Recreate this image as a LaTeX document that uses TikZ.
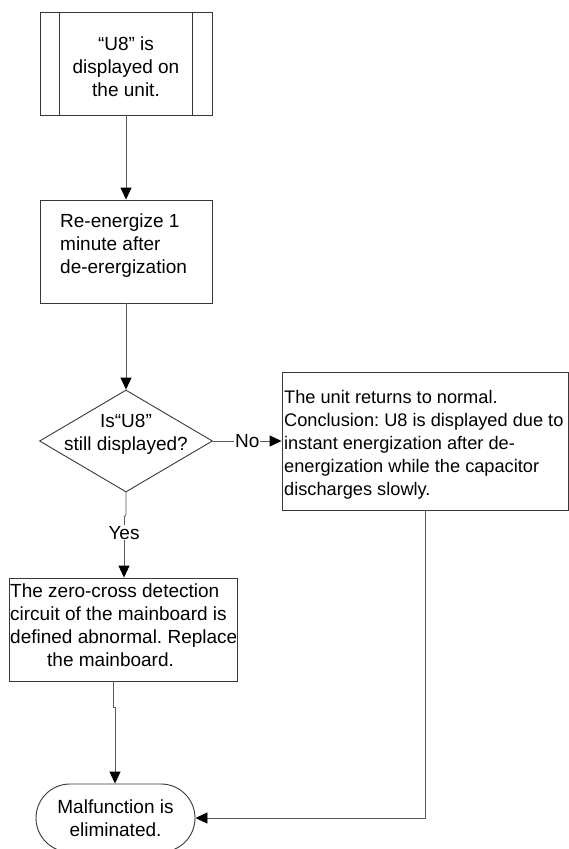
\documentclass[tikz,border=0pt]{standalone}
\usepackage{fontspec}
\setmainfont{Liberation Sans}
\frenchspacing
\usetikzlibrary{shapes.geometric,arrows.meta,calc}
\tikzset{
  boxline/.style={draw=black!78, line width=0.9pt},
  box/.style={boxline, rectangle, inner sep=0pt},
  txt/.style={inner sep=0pt, font=\fontsize{19}{22.7}\selectfont},
  smalltxt/.style={inner sep=0pt, font=\fontsize{18.2}{22.9}\selectfont},
  conn/.style={draw=black!65, line width=0.9pt},
  arr/.style={conn, -{Triangle[length=12pt,width=11pt,color=black]}},
  lbl/.style={txt, fill=white, inner sep=1pt}
}
\begin{document}
\begin{tikzpicture}[x=1pt,y=-1pt]
\useasboundingbox (0,0) rectangle (569,849);
\clip (0,0) rectangle (569,849);
% start: predefined process
\node[box, minimum width=172pt, minimum height=103pt] (b1) at (126,63.5) {};
\draw[boxline] ($(b1.north west)+(20,0)$) -- ($(b1.south west)+(20,0)$);
\draw[boxline] ($(b1.north east)+(-20,0)$) -- ($(b1.south east)+(-20,0)$);
\node[txt, anchor=north, align=center] (t1) at (126,37) {“U8” is\\displayed on\\the unit.};
% re-energize
\node[box, minimum width=172pt, minimum height=103pt] (b2) at (126,251.5) {};
\node[txt, anchor=north west, align=left] (t2) at (60,214) {Re-energize 1\\minute after\\de-erergization};
% decision
\node[boxline, diamond, inner sep=0pt, minimum width=173pt, minimum height=102pt] (d) at (126,441) {};
\node[txt, anchor=north, align=center] (td) at (126,414) {Is“U8”\\still displayed?};
% right box
\node[box, minimum width=286pt, minimum height=138pt] (rb) at (425,441) {};
\node[smalltxt, anchor=north west, align=left] (trb) at (284,390.5) {The unit returns to normal.\\Conclusion: U8 is displayed due to\\instant energization after de-\\energization while the capacitor\\discharges slowly.};
% replace mainboard
\node[box, minimum width=228pt, minimum height=103pt] (b3) at (123,629.5) {};
\node[txt, anchor=north west, align=left] (t3) at (10,584) {The zero-cross detection\\circuit of the mainboard is\\defined abnormal. Replace\\\hspace*{37pt}the mainboard.};
% terminator
\node[boxline, rectangle, rounded corners=34pt, minimum width=159pt, minimum height=68pt, inner sep=0pt, txt, align=center] (e) at (115.5,818) {Malfunction is\\eliminated.};
% connectors
\draw[arr] (b1.south) -- (b2.north);
\draw[arr] (b2.south) -- (d.north);
\draw[arr] (d.east) -- node[lbl] {No} (rb.west);
\coordinate (y1) at (126,515);
\coordinate (y2) at (124,517);
\draw[conn] (d.south) -- (y1) -- (y2);
\draw[arr] (y2) -- node[lbl, pos=0.26] {Yes} (y2 |- b3.north);
\coordinate (m1) at (113,681);
\coordinate (m2) at (113,707);
\coordinate (m3) at (115,707);
\draw[arr] (m1) -- (m2) -- (m3) -- (m3 |- e.north);
\draw[arr] (rb.south) -- (rb.south |- e.east) -- (e.east);
\end{tikzpicture}
\end{document}
